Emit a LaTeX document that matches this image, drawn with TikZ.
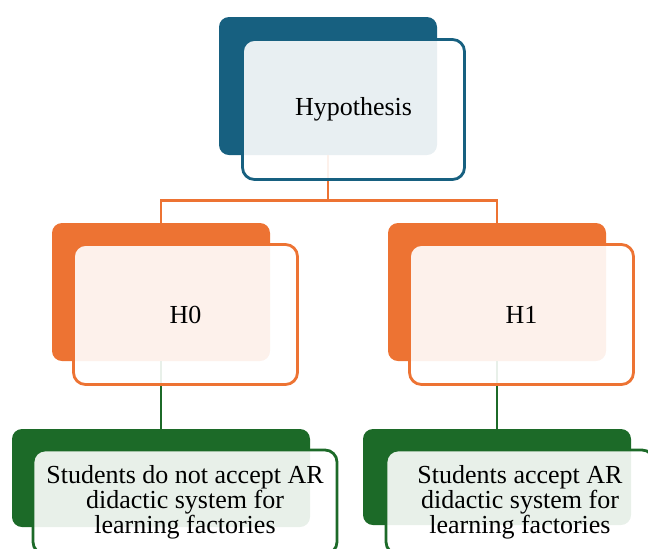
\documentclass[tikz,border=0pt]{standalone}
\usepackage{fontspec}
\setmainfont{Liberation Serif}
\usepackage{xcolor}
\usepackage{tikz}
\usetikzlibrary{positioning}

\definecolor{hypblue}{RGB}{23,96,128}
\definecolor{hyporange}{RGB}{237,115,51}
\definecolor{hypgreen}{RGB}{28,106,40}

\tikzset{
	backbox/.style={draw=none, fill=#1, rounded corners=5pt, inner sep=0pt},
	frontbox/.style={draw=#1, line width=1.4pt, fill=white, fill opacity=0.9, text opacity=1,
		rounded corners=6pt, inner sep=0pt, font=\fontsize{13}{12.5}\selectfont, align=center},
	link/.style={draw=#1, line width=1.3pt}
}

\begin{document}
\begin{tikzpicture}[x=0.5pt, y=-0.5pt]
	\useasboundingbox (0,0) rectangle (648,548);
	\clip (0,0) rectangle (648,548);
	% back boxes
	\node[backbox=hypblue, minimum width=109pt, minimum height=69pt] (hypB) at (328,86) {};
	\node[backbox=hyporange, minimum width=109pt, minimum height=69pt] (h0B) at (161,292) {};
	\node[backbox=hyporange, minimum width=109pt, minimum height=69pt] (h1B) at (497,292) {};
	\node[backbox=hypgreen, minimum width=149pt, minimum height=49pt] (r0B) at (161,478) {};
	\node[backbox=hypgreen, minimum width=134pt, minimum height=48pt] (r1B) at (497,477) {};
	% connectors
	\draw[link=hyporange] (hypB.south) -- ++(0,45) -| (h0B.north);
	\draw[link=hyporange] (hypB.south) -- ++(0,45) -| (h1B.north);
	\draw[link=hypgreen] (h0B.south) -- (r0B.north);
	\draw[link=hypgreen] (h1B.south) -- (r1B.north);
	% front boxes
	\node[frontbox=hypblue, minimum width=111pt, minimum height=70pt] (hyp) at (353.5,109.5) {Hypothesis};
	\node[frontbox=hyporange, minimum width=112pt, minimum height=70pt] (h0) at (185.5,314.5) {H0};
	\node[frontbox=hyporange, minimum width=112pt, minimum height=70pt] (h1) at (521.5,314.5) {H1};
	\node[frontbox=hypgreen, minimum width=152pt, minimum height=52pt] (r0) at (185,502)
		{Students do not accept AR\\didactic system for\\learning factories};
	\node[frontbox=hypgreen, minimum width=134pt, minimum height=52pt] (r1) at (520,502)
		{Students accept AR\\didactic system for\\learning factories};
\end{tikzpicture}
\end{document}
